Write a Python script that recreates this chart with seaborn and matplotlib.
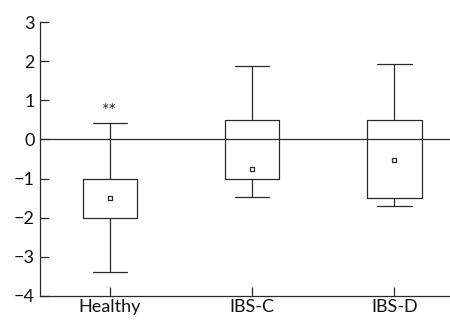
import matplotlib
matplotlib.use("Agg")
import matplotlib.pyplot as plt
import seaborn as sns
import pandas as pd

groups = ["Healthy", "IBS-C", "IBS-D"]
whisker_low = [-3.4, -1.48, -1.7]
q1 = [-2.0, -1.0, -1.5]
q3 = [-1.0, 0.5, 0.5]
whisker_high = [0.43, 1.88, 1.92]
means = [-1.5, -0.75, -0.52]
yticks = [-4, -3, -2, -1, 0, 1, 2, 3]
annotation = "**"

sns.set_theme(style="ticks")
plt.rcParams["font.family"] = ["Lato", "DejaVu Sans"]

rows = []
for g, lo, a, m, b, hi in zip(groups, whisker_low, q1, means, q3, whisker_high):
    for v in (lo, a, m, b, hi):
        rows.append({"group": g, "value": v})
df = pd.DataFrame(rows)
mdf = pd.DataFrame({"group": groups, "mean": means})

fig = plt.figure(figsize=(4.5, 3.21), dpi=100)
ax = fig.add_axes([0.089, 0.078, 0.911, 0.853])

lc = "#2a2a2a"
sns.boxplot(data=df, x="group", y="value", order=groups, whis=(0, 100),
            width=0.38, fill=False, color=lc, linewidth=0.9,
            medianprops={"visible": False},
            showfliers=False, ax=ax)

# set cap widths
for line in ax.lines:
    xd = list(line.get_xdata())
    yd = list(line.get_ydata())
    if len(xd) == 2 and yd[0] == yd[1] and (yd[0] in whisker_low or yd[0] in whisker_high):
        c = (xd[0] + xd[1]) / 2
        line.set_xdata([c - 0.12, c + 0.12])
    line.set_color(lc)

sns.scatterplot(data=mdf, x="group", y="mean", marker="s", s=9,
                facecolor="white", edgecolor=lc, linewidth=0.9, zorder=5, ax=ax)

ax.axhline(0, color=lc, lw=0.9, zorder=1)
ax.text(0, 0.52, annotation, ha="center", va="bottom", fontsize=13, color=lc)

ax.set_ylim(-4, 3)
ax.set_xlim(-0.49, 2.39)
ax.set_yticks(yticks)
ax.set_yticklabels([str(t).replace("-", "\u2212") for t in yticks])
ax.set_xlabel("")
ax.set_ylabel("")
ax.tick_params(axis="both", direction="in", length=6.5, width=0.9, color=lc,
               labelsize=13, labelcolor="#111111")
ax.tick_params(axis="x", pad=2)
ax.tick_params(axis="y", pad=4)
sns.despine(ax=ax, top=True, right=True)
for s in ("left", "bottom"):
    ax.spines[s].set_color(lc)
    ax.spines[s].set_linewidth(0.9)

fig.savefig("out.png", dpi=100)
